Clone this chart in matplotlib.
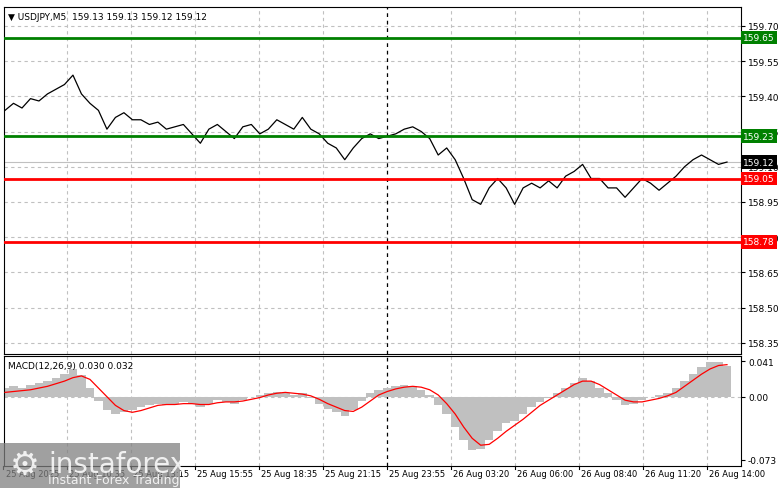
import numpy as np
import matplotlib
matplotlib.use("Agg")
import matplotlib.pyplot as plt
from matplotlib.patches import Rectangle

price = [159.34,159.37,159.35,159.39,159.38,159.41,159.43,159.45,159.49,159.41,159.37,159.34,159.26,159.31,159.33,159.30,159.30,159.28,159.29,159.26,
         159.27,159.28,159.24,159.20,159.26,159.28,159.25,159.22,159.27,159.28,159.24,159.26,159.30,159.28,159.26,159.31,159.26,159.24,159.20,159.18,
         159.13,159.18,159.22,159.24,159.22,159.23,159.24,159.26,159.27,159.25,159.22,159.15,159.18,159.13,159.05,158.96,158.94,159.01,159.05,159.01,
         158.94,159.01,159.03,159.01,159.04,159.01,159.06,159.08,159.11,159.05,159.05,159.01,159.01,158.97,159.01,159.05,159.03,159.00,159.03,159.06,
         159.10,159.13,159.15,159.13,159.11,159.12]
hist = [0.010,0.012,0.010,0.014,0.016,0.018,0.022,0.026,0.032,0.025,0.010,-0.005,-0.015,-0.020,-0.018,-0.015,-0.012,-0.010,-0.008,-0.010,
        -0.008,-0.006,-0.008,-0.012,-0.008,-0.004,-0.006,-0.008,-0.004,0.000,0.002,0.004,0.006,0.004,0.002,0.004,-0.002,-0.008,-0.014,-0.018,
        -0.022,-0.015,-0.005,0.004,0.008,0.010,0.012,0.014,0.012,0.008,0.002,-0.010,-0.020,-0.035,-0.050,-0.062,-0.060,-0.050,-0.040,-0.030,
        -0.028,-0.020,-0.012,-0.006,-0.002,0.004,0.010,0.016,0.022,0.018,0.010,0.004,-0.004,-0.010,-0.008,-0.004,0.000,0.002,0.004,0.010,
        0.018,0.026,0.034,0.040,0.040,0.036]
signal = [0.005,0.006,0.007,0.008,0.010,0.012,0.015,0.018,0.022,0.024,0.020,0.010,0.000,-0.010,-0.016,-0.018,-0.016,-0.013,-0.010,-0.009,
          -0.009,-0.008,-0.008,-0.009,-0.009,-0.007,-0.006,-0.006,-0.005,-0.003,-0.001,0.002,0.004,0.005,0.004,0.003,0.001,-0.003,-0.008,-0.012,
          -0.016,-0.017,-0.012,-0.005,0.002,0.006,0.009,0.011,0.012,0.011,0.008,0.002,-0.008,-0.020,-0.035,-0.048,-0.056,-0.055,-0.048,-0.040,
          -0.033,-0.026,-0.018,-0.010,-0.004,0.002,0.008,0.014,0.018,0.018,0.014,0.008,0.002,-0.004,-0.006,-0.006,-0.004,-0.002,0.001,0.005,
          0.012,0.019,0.026,0.032,0.036,0.037]
xtick_labels = ["25 Aug 2025","25 Aug 10:35","25 Aug 13:15","25 Aug 15:55","25 Aug 18:35","25 Aug 21:15","25 Aug 23:55",
                "26 Aug 03:20","26 Aug 06:00","26 Aug 08:40","26 Aug 11:20","26 Aug 14:00"]
price_ticks = [159.70,159.55,159.40,159.25,159.10,158.95,158.80,158.65,158.50,158.35]
green_levels = [159.65, 159.23]
red_levels = [159.05, 158.78]
current = 159.12
macd_ticks = [0.041, 0.00, -0.073]

W, H = 781, 489
fig = plt.figure(figsize=(W/100, H/100), dpi=100)
plt.rcParams['font.family'] = 'DejaVu Sans'
fs = 6.5
L, R = 4/W, 741/W
ax = fig.add_axes([L, 1-355/H, R-L, (355-8)/H])
ax2 = fig.add_axes([L, 1-467/H, R-L, (467-357)/H])

XMAX = 737
xp = np.linspace(1, 723, len(price))
xm = np.linspace(1, 723, len(hist))
tick_x = [-1 + 64*k for k in range(len(xtick_labels))]

for a in (ax, ax2):
    a.set_xlim(0, XMAX)
    for i, t in enumerate(tick_x):
        if i == 6:
            a.axvline(t, color='black', ls=(0, (3, 3)), lw=0.9, zorder=1)
        elif t > 0:
            a.axvline(t, color='#c0c0c0', ls=(0, (3, 3)), lw=0.8, zorder=0)
    a.yaxis.tick_right()
    a.tick_params(axis='y', length=3, labelsize=fs, pad=2)
    a.set_xticks([])
    for s in a.spines.values():
        s.set_linewidth(0.8)

ax.set_ylim(158.303, 159.78)
ax.set_yticks(price_ticks)
ax.set_yticklabels([f"{v:.2f}" for v in price_ticks])
for v in price_ticks:
    ax.axhline(v, color='#c0c0c0', ls=(0, (3, 3)), lw=0.8, zorder=0)
ax.axhline(current, color='#c0c0c0', lw=0.8, zorder=1)
ax.plot(xp, price, color='black', lw=0.9, zorder=3)
for v in green_levels:
    ax.axhline(v, color='#008000', lw=2, zorder=4)
for v in red_levels:
    ax.axhline(v, color='#ff0000', lw=2, zorder=4)

def tag(v, fc):
    ax.text(1.003, v, f"{v:.2f}", transform=ax.get_yaxis_transform(), fontsize=fs, color='white',
            va='center', ha='left', bbox=dict(boxstyle='square,pad=0.25', fc=fc, ec='none'), zorder=10, clip_on=False)
for v in green_levels:
    tag(v, '#008000')
for v in red_levels:
    tag(v, '#ff0000')
tag(current, 'black')

ax.text(0.005, 0.985, "▼ USDJPY,M5  159.13 159.13 159.12 159.12", transform=ax.transAxes,
        fontsize=fs, va='top', ha='left')

ax2.set_ylim(-0.080, 0.047)
ax2.bar(xm, hist, width=xm[1]-xm[0], color='#c0c0c0', zorder=2)
ax2.plot(xm, signal, color='red', lw=0.9, zorder=3)
ax2.axhline(0, color='#c0c0c0', ls=(0, (3, 3)), lw=0.8, zorder=0)
ax2.set_yticks(macd_ticks)
ax2.set_yticklabels(["0.041", "0.00", "-0.073"])
ax2.text(0.005, 0.95, "MACD(12,26,9) 0.030 0.032", transform=ax2.transAxes, fontsize=fs, va='top', ha='left')

for t, lab in zip(tick_x, xtick_labels):
    ax2.text(max(t, 0) + 2, -0.03, lab, transform=ax2.get_xaxis_transform(), fontsize=6,
             va='top', ha='left', clip_on=False)
    ax2.plot([t, t], [0, -0.03], transform=ax2.get_xaxis_transform(), color='black', lw=0.8, clip_on=False)

# watermark
fig.patches.append(Rectangle((0, 0), 180/W, 45/H, transform=fig.transFigure, fc='#808080', alpha=0.75, ec='none', zorder=20))
fig.text(48/W, 24/H, "instaforex", fontsize=20, color='white', alpha=0.85, va='center', zorder=21)
fig.text(48/W, 8/H, "Instant Forex Trading", fontsize=9, color='white', alpha=0.85, va='center', zorder=21)
fig.text(10/W, 24/H, "⚙", fontsize=24, color='white', alpha=0.85, va='center', zorder=21)

fig.savefig("out.png", dpi=100)
